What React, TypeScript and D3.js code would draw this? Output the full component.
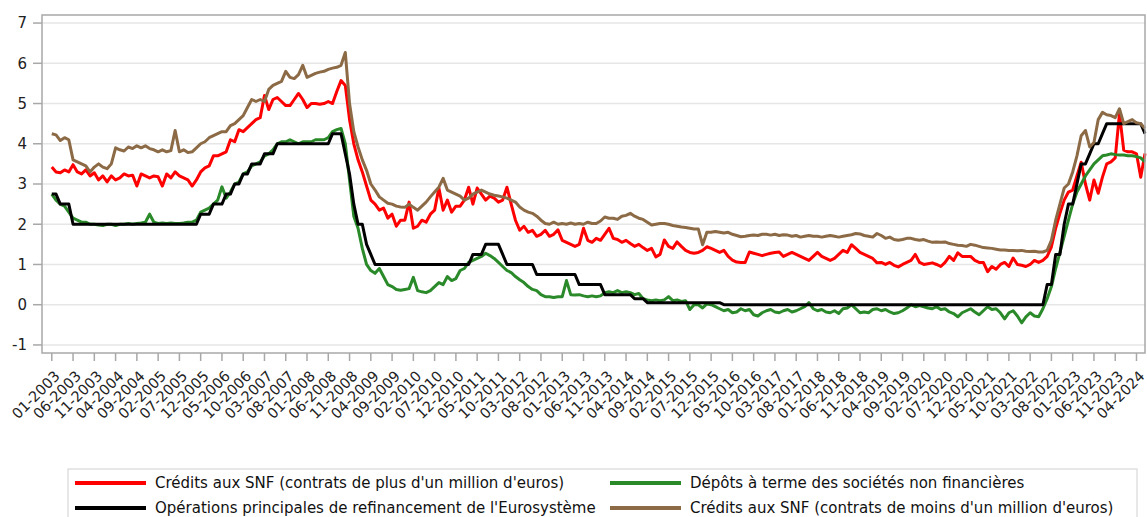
import React, { useEffect, useRef } from 'react';
import * as d3 from 'd3';

// monthly series, 01-2003 .. 06-2024
const months: string[] = d3.timeMonths(new Date(2003, 0, 1), new Date(2024, 6, 1)).map(d3.timeFormat('%m-%Y'));

const tickLabels = [
  '01-2003', '06-2003', '11-2003', '04-2004', '09-2004', '02-2005', '07-2005', '12-2005', '05-2006', '10-2006',
  '03-2007', '08-2007', '01-2008', '06-2008', '11-2008', '04-2009', '09-2009', '02-2010', '07-2010', '12-2010',
  '05-2011', '10-2011', '03-2012', '08-2012', '01-2013', '06-2013', '11-2013', '04-2014', '09-2014', '02-2015',
  '07-2015', '12-2015', '05-2016', '10-2016', '03-2017', '08-2017', '01-2018', '06-2018', '11-2018', '04-2019',
  '09-2019', '02-2020', '07-2020', '12-2020', '05-2021', '10-2021', '03-2022', '08-2022', '01-2023', '06-2023',
  '11-2023', '04-2024',
];

const yTicks = [-1, 0, 1, 2, 3, 4, 5, 6, 7];

// Crédits aux SNF > 1 M€
const creditsPlus = [
  3.42, 3.3, 3.28, 3.35, 3.3, 3.48, 3.3, 3.25, 3.35, 3.2, 3.28, 3.1,
  3.2, 3.05, 3.2, 3.1, 3.15, 3.25, 3.2, 3.22, 2.95, 3.25, 3.2, 3.15,
  3.2, 3.18, 2.95, 3.25, 3.15, 3.3, 3.2, 3.15, 3.1, 2.95, 3.1, 3.3,
  3.4, 3.45, 3.7, 3.7, 3.75, 3.8, 4.1, 4.05, 4.35, 4.3, 4.4, 4.5,
  4.6, 4.65, 5.2, 4.85, 5.1, 5.15, 5.05, 4.95, 4.95, 5.1, 5.25, 5.1,
  4.9, 5.0, 5.0, 4.98, 5.0, 5.05, 5.0, 5.3, 5.57, 5.45, 4.6, 4.0,
  3.6, 3.3, 2.95, 2.6, 2.5, 2.35, 2.4, 2.15, 2.25, 1.95, 2.1, 2.1,
  2.55, 1.9, 1.95, 2.1, 2.05, 2.25, 2.35, 2.9, 2.35, 2.6, 2.3, 2.45,
  2.45, 2.6, 2.92, 2.5, 2.9, 2.75, 2.6, 2.7, 2.65, 2.55, 2.6, 2.92,
  2.5, 2.1, 1.85, 1.95, 1.8, 1.85, 1.7, 1.75, 1.85, 1.7, 1.75, 1.86,
  1.6, 1.55, 1.5, 1.45, 1.5, 1.9, 1.6, 1.55, 1.65, 1.6, 1.75, 1.9,
  1.65, 1.62, 1.55, 1.6, 1.52, 1.45, 1.5, 1.42, 1.35, 1.4, 1.19, 1.25,
  1.61, 1.45, 1.4, 1.56, 1.45, 1.35, 1.3, 1.28, 1.3, 1.35, 1.44, 1.4,
  1.35, 1.3, 1.35, 1.2, 1.11, 1.06, 1.05, 1.05, 1.31, 1.28, 1.25, 1.22,
  1.25, 1.28, 1.3, 1.31, 1.2, 1.25, 1.3, 1.25, 1.2, 1.15, 1.1, 1.2,
  1.3, 1.2, 1.15, 1.1, 1.15, 1.25, 1.35, 1.3, 1.49, 1.4, 1.3, 1.25,
  1.2, 1.15, 1.04, 1.05, 1.0, 1.05, 0.98, 0.94, 1.0, 1.05, 1.1, 1.25,
  1.05, 1.0, 1.02, 1.04, 1.0, 0.95, 1.05, 1.2, 1.1, 1.29, 1.2, 1.2,
  1.2, 1.1, 1.05, 1.05, 0.82, 0.95, 0.88, 1.0, 1.05, 0.95, 1.16, 1.0,
  0.98, 0.95, 1.0, 1.1, 1.05, 1.1, 1.2, 1.44, 1.9, 2.27, 2.6, 2.8,
  2.85, 3.2, 3.54, 3.0, 2.6, 3.1, 2.77, 3.17, 3.5, 3.55, 3.65, 4.75,
  3.84, 3.8, 3.8, 3.75, 3.17, 3.76,
];

// Dépôts à terme des SNF
const depots = [
  2.75, 2.6, 2.5, 2.45, 2.3, 2.15, 2.1, 2.05, 2.05, 2.0, 2.0, 1.98,
  1.97, 2.0, 2.0, 1.97, 2.0, 2.0, 2.02, 2.0, 2.02, 2.03, 2.05, 2.25,
  2.05, 2.02, 2.03, 2.02, 2.03, 2.02, 2.02, 2.03, 2.05, 2.05, 2.1, 2.3,
  2.35, 2.4, 2.5, 2.6, 2.93, 2.65, 2.8, 3.0, 3.05, 3.25, 3.3, 3.45,
  3.5, 3.55, 3.7, 3.75, 3.85, 4.0, 4.05, 4.05, 4.1, 4.05, 4.0, 4.05,
  4.05, 4.05, 4.1, 4.1, 4.1, 4.15, 4.3, 4.35, 4.38, 4.0, 3.1, 2.2,
  1.9, 1.4, 1.0, 0.85, 0.78, 0.9, 0.7, 0.5, 0.45, 0.38, 0.36, 0.38,
  0.4, 0.68, 0.35, 0.32, 0.3, 0.35, 0.45, 0.55, 0.5, 0.7, 0.6, 0.65,
  0.85, 0.9, 1.05, 1.1, 1.15, 1.2, 1.28, 1.22, 1.15, 1.05, 0.95, 0.85,
  0.8, 0.7, 0.62, 0.55, 0.45, 0.38, 0.35, 0.25, 0.2, 0.2, 0.18, 0.2,
  0.2, 0.6, 0.25, 0.24, 0.25, 0.22, 0.2, 0.22, 0.2, 0.22, 0.3, 0.32,
  0.3, 0.35, 0.3, 0.32, 0.3, 0.25, 0.28, 0.15, 0.12, 0.1, 0.12, 0.1,
  0.12, 0.2, 0.1, 0.12, 0.08, 0.1, -0.12, 0.0, 0.0, -0.08, 0.02, 0.0,
  -0.05, -0.1, -0.15, -0.12, -0.2, -0.18, -0.1, -0.15, -0.12, -0.25, -0.28, -0.2,
  -0.15, -0.12, -0.18, -0.2, -0.15, -0.12, -0.18, -0.15, -0.1, -0.05, 0.05, -0.1,
  -0.15, -0.12, -0.18, -0.2, -0.15, -0.22, -0.1, -0.08, 0.0, -0.1, -0.2, -0.18,
  -0.2, -0.12, -0.1, -0.15, -0.12, -0.18, -0.22, -0.2, -0.15, -0.08, 0.0, -0.05,
  -0.02, -0.05, -0.08, -0.1, -0.05, -0.12, -0.1, -0.18, -0.22, -0.3, -0.2, -0.15,
  -0.1, -0.18, -0.25, -0.15, -0.05, -0.12, -0.1, -0.2, -0.35, -0.2, -0.15, -0.28,
  -0.45, -0.3, -0.2, -0.28, -0.3, -0.1, 0.15, 0.45, 0.9, 1.3, 1.7, 2.1,
  2.5, 2.8, 3.0, 3.2, 3.35, 3.5, 3.6, 3.7, 3.72, 3.75, 3.73, 3.72,
  3.72, 3.7, 3.7, 3.68, 3.65, 3.55,
];

// Opérations principales de refinancement
const refi = [
  2.75, 2.75, 2.5, 2.5, 2.5, 2.0, 2.0, 2.0, 2.0, 2.0, 2.0, 2.0,
  2.0, 2.0, 2.0, 2.0, 2.0, 2.0, 2.0, 2.0, 2.0, 2.0, 2.0, 2.0,
  2.0, 2.0, 2.0, 2.0, 2.0, 2.0, 2.0, 2.0, 2.0, 2.0, 2.0, 2.25,
  2.25, 2.25, 2.5, 2.5, 2.5, 2.75, 2.75, 3.0, 3.0, 3.25, 3.25, 3.5,
  3.5, 3.5, 3.75, 3.75, 3.75, 4.0, 4.0, 4.0, 4.0, 4.0, 4.0, 4.0,
  4.0, 4.0, 4.0, 4.0, 4.0, 4.0, 4.25, 4.25, 4.25, 3.75, 3.25, 2.5,
  2.0, 2.0, 1.5, 1.25, 1.0, 1.0, 1.0, 1.0, 1.0, 1.0, 1.0, 1.0,
  1.0, 1.0, 1.0, 1.0, 1.0, 1.0, 1.0, 1.0, 1.0, 1.0, 1.0, 1.0,
  1.0, 1.0, 1.0, 1.25, 1.25, 1.25, 1.5, 1.5, 1.5, 1.5, 1.25, 1.0,
  1.0, 1.0, 1.0, 1.0, 1.0, 1.0, 0.75, 0.75, 0.75, 0.75, 0.75, 0.75,
  0.75, 0.75, 0.75, 0.75, 0.5, 0.5, 0.5, 0.5, 0.5, 0.5, 0.25, 0.25,
  0.25, 0.25, 0.25, 0.25, 0.25, 0.15, 0.15, 0.15, 0.05, 0.05, 0.05, 0.05,
  0.05, 0.05, 0.05, 0.05, 0.05, 0.05, 0.05, 0.05, 0.05, 0.05, 0.05, 0.05,
  0.05, 0.05, 0, 0, 0, 0, 0, 0, 0, 0, 0, 0,
  0, 0, 0, 0, 0, 0, 0, 0, 0, 0, 0, 0,
  0, 0, 0, 0, 0, 0, 0, 0, 0, 0, 0, 0,
  0, 0, 0, 0, 0, 0, 0, 0, 0, 0, 0, 0,
  0, 0, 0, 0, 0, 0, 0, 0, 0, 0, 0, 0,
  0, 0, 0, 0, 0, 0, 0, 0, 0, 0, 0, 0,
  0, 0, 0, 0, 0, 0, 0.5, 0.5, 1.25, 1.25, 2.0, 2.5,
  2.5, 3.0, 3.5, 3.5, 3.75, 4.0, 4.0, 4.25, 4.5, 4.5, 4.5, 4.5,
  4.5, 4.5, 4.5, 4.5, 4.5, 4.25,
];

// Crédits aux SNF < 1 M€
const creditsMoins = [
  4.25, 4.22, 4.08, 4.15, 4.1, 3.6, 3.55, 3.5, 3.45, 3.3, 3.42, 3.5,
  3.42, 3.38, 3.5, 3.9, 3.85, 3.82, 3.92, 3.88, 3.95, 3.9, 3.95, 3.88,
  3.85, 3.8, 3.85, 3.8, 3.83, 4.33, 3.8, 3.85, 3.78, 3.8, 3.9, 4.0,
  4.05, 4.15, 4.2, 4.25, 4.3, 4.3, 4.45, 4.5, 4.6, 4.7, 4.9, 5.1,
  5.05, 5.1, 5.05, 5.35, 5.45, 5.5, 5.55, 5.8, 5.65, 5.62, 5.72, 5.95,
  5.65, 5.7, 5.75, 5.78, 5.8, 5.85, 5.88, 5.9, 5.95, 6.27, 5.0, 4.3,
  3.92, 3.6, 3.34, 3.0, 2.85, 2.68, 2.6, 2.52, 2.5, 2.45, 2.43, 2.42,
  2.5, 2.42, 2.35, 2.45, 2.55, 2.68, 2.8, 2.92, 3.14, 2.85, 2.8, 2.75,
  2.7, 2.6, 2.65, 2.75, 2.8, 2.85, 2.8, 2.75, 2.72, 2.7, 2.68, 2.65,
  2.6, 2.55, 2.43, 2.35, 2.3, 2.27, 2.2, 2.1, 2.02, 2.0, 2.05, 2.0,
  2.02, 2.0, 2.03, 2.0, 2.02, 2.0, 2.05, 2.02, 2.02, 2.08, 2.18, 2.15,
  2.15, 2.12, 2.2, 2.22, 2.27, 2.2, 2.15, 2.12, 2.05, 1.98, 2.0, 2.02,
  2.02, 2.0, 1.97, 1.95, 1.93, 1.92, 1.9, 1.88, 1.88, 1.49, 1.8, 1.8,
  1.82, 1.8, 1.78, 1.8, 1.75, 1.72, 1.69, 1.7, 1.72, 1.73, 1.72, 1.75,
  1.75, 1.73, 1.75, 1.72, 1.74, 1.73, 1.7, 1.72, 1.68, 1.7, 1.72, 1.7,
  1.7, 1.68, 1.7, 1.72, 1.7, 1.68, 1.7, 1.72, 1.74, 1.77, 1.76, 1.72,
  1.7, 1.68, 1.77, 1.72, 1.65, 1.68, 1.62, 1.6, 1.62, 1.65, 1.65, 1.62,
  1.6, 1.62, 1.58, 1.55, 1.56, 1.55, 1.56, 1.52, 1.5, 1.48, 1.47, 1.45,
  1.5, 1.48, 1.45, 1.42, 1.41, 1.4, 1.38, 1.36, 1.36, 1.35, 1.35, 1.34,
  1.35, 1.33, 1.32, 1.33, 1.31, 1.31, 1.35, 1.6, 2.1, 2.5, 2.9, 3.0,
  3.3, 3.7, 4.2, 4.33, 3.92, 4.03, 4.6, 4.78, 4.72, 4.7, 4.65, 4.87,
  4.5, 4.55, 4.6, 4.52, 4.5, 4.38,
];

const seriesNames = [
  "Crédits aux SNF (contrats de plus d'un million d'euros)",
  'Dépôts à terme des sociétés non financières',
  "Opérations principales de refinancement de l'Eurosystème",
  "Crédits aux SNF (contrats de moins d'un million d'euros)",
];
const seriesColors = ['#ff0000', '#2a8a2a', '#000000', '#8b6a45'];
const seriesValues = [creditsPlus, depots, refi, creditsMoins];

const W = 1147, H = 517;

function LineChart() {
  const ref = useRef<SVGSVGElement>(null);

  useEffect(() => {
    const svg = d3.select(ref.current);
    svg.selectAll('*').remove();

    const left = 42, right = 1145, top = 15, bottom = 353;
    const font = '"DejaVu Sans", Verdana, sans-serif';

    const x = d3.scaleLinear().domain([-2.3, months.length - 1]).range([left, right]);
    const y = d3.scaleLinear().domain([-1.2, 7.2]).range([bottom, top]);

    // grid
    svg.append('g')
      .selectAll('line')
      .data(yTicks)
      .enter()
      .append('line')
      .attr('x1', left).attr('x2', right)
      .attr('y1', d => y(d)).attr('y2', d => y(d))
      .attr('stroke', '#e6e6e6')
      .attr('stroke-width', 1.5);

    // y axis ticks + labels
    const ya = svg.append('g');
    ya.selectAll('line')
      .data(yTicks)
      .enter()
      .append('line')
      .attr('x1', left - 9).attr('x2', left)
      .attr('y1', d => y(d)).attr('y2', d => y(d))
      .attr('stroke', '#a8a8a8')
      .attr('stroke-width', 1.5);
    ya.selectAll('text')
      .data(yTicks)
      .enter()
      .append('text')
      .attr('x', left - 15)
      .attr('y', d => y(d))
      .attr('dy', '0.36em')
      .attr('text-anchor', 'end')
      .style('font-family', font)
      .style('font-size', '15px')
      .attr('fill', '#222')
      .text(d => String(d));

    // x axis ticks + rotated labels
    const xa = svg.append('g');
    xa.selectAll('line')
      .data(tickLabels)
      .enter()
      .append('line')
      .attr('x1', d => x(months.indexOf(d))).attr('x2', d => x(months.indexOf(d)))
      .attr('y1', bottom).attr('y2', bottom + 8)
      .attr('stroke', '#a8a8a8')
      .attr('stroke-width', 1.5);
    xa.selectAll('text')
      .data(tickLabels)
      .enter()
      .append('text')
      .attr('transform', d => 'translate(' + (x(months.indexOf(d)) + 9) + ',' + (bottom + 24) + ') rotate(-45)')
      .attr('text-anchor', 'end')
      .style('font-family', font)
      .style('font-size', '14.5px')
      .attr('fill', '#222')
      .text(d => d);

    // series
    const line = d3.line<number>()
      .x((d, i) => x(i))
      .y(d => y(d));

    svg.append('g')
      .selectAll('path')
      .data(seriesValues)
      .enter()
      .append('path')
      .attr('d', d => line(d))
      .attr('fill', 'none')
      .attr('stroke', (d, i) => seriesColors[i])
      .attr('stroke-width', 3)
      .attr('stroke-linejoin', 'round');

    // frame
    svg.append('rect')
      .attr('x', left).attr('y', top)
      .attr('width', right - left).attr('height', bottom - top)
      .attr('fill', 'none')
      .attr('stroke', '#a8a8a8')
      .attr('stroke-width', 1.5);

    // legend
    const lg = svg.append('g');
    lg.append('rect')
      .attr('x', 68).attr('y', 469)
      .attr('width', 1137 - 68).attr('height', 60)
      .attr('fill', 'none')
      .attr('stroke', '#d0d0d0');

    const cols = [75, 610];
    const rows = [483, 508];
    const items = lg.selectAll('g.item')
      .data(seriesNames)
      .enter()
      .append('g')
      .attr('class', 'item')
      .attr('transform', (d, i) => 'translate(' + cols[i % 2] + ',' + rows[Math.floor(i / 2)] + ')');
    items.append('line')
      .attr('x1', 0).attr('x2', 71)
      .attr('stroke', (d, i) => seriesColors[i])
      .attr('stroke-width', 4);
    items.append('text')
      .attr('x', 80)
      .attr('dy', '0.36em')
      .style('font-family', font)
      .style('font-size', '15px')
      .attr('fill', '#111')
      .text(d => d);
  }, []);

  return <svg ref={ref} width={W} height={H} style={{ display: 'block' }} />;
}

export default function App() {
  return (
    <div style={{ position: 'absolute', left: 0, top: 0, width: W, height: H, background: '#fff' }}>
      <LineChart />
    </div>
  );
}
